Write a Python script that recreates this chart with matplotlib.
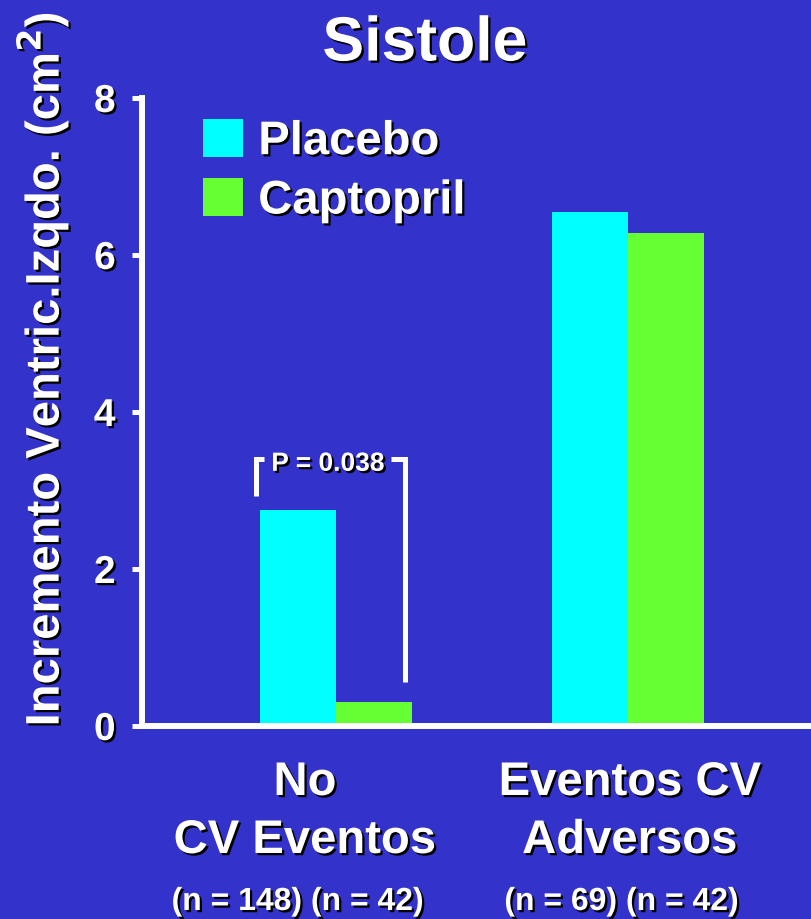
import matplotlib
matplotlib.use("Agg")
import matplotlib.pyplot as plt
import matplotlib.patheffects as pe
import matplotlib.transforms as mtransforms
import numpy as np

# Data
groups = ["No\nCV Eventos", "Eventos CV\nAdversos"]
group_n = ["(n = 148) (n = 42)", "(n = 69) (n = 42)"]
series = ["Placebo", "Captopril"]
placebo = [2.75, 6.55]
captopril = [0.30, 6.28]
y_ticks = [0, 2, 4, 6, 8]
p_label = "P = 0.038"

BG = "#3333CC"
COLORS = ["#00FFFF", "#66FF33"]
FONT = "Liberation Sans"

plt.rcParams["font.family"] = [FONT, "DejaVu Sans"]
plt.rcParams["font.weight"] = "bold"

shadow = [pe.withSimplePatchShadow(offset=(1.6, -1.6), shadow_rgbFace="black", alpha=1.0)]

fig = plt.figure(figsize=(8.11, 9.20), dpi=100, facecolor=BG)
W, H = 811, 920
ax = fig.add_axes([142 / W, (H - 727) / H, (W - 142) / W, (727 - 99) / H])
ax.set_facecolor(BG)

x = np.arange(len(groups))
bw = 0.26
ax.bar(x - bw / 2, placebo, bw, color=COLORS[0], label=series[0], zorder=2)
ax.bar(x + bw / 2, captopril, bw, color=COLORS[1], label=series[1], zorder=2)

ax.set_xlim(-0.664, 1.627)
ax.set_ylim(0, 8)

for side in ["top", "right"]:
    ax.spines[side].set_visible(False)
for side in ["left", "bottom"]:
    ax.spines[side].set_color("white")
    ax.spines[side].set_linewidth(4.3)
    ax.spines[side].set_capstyle("projecting")

ax.set_xticks([])
ax.set_yticks(y_ticks)
ax.tick_params(axis="y", colors="white", length=7, width=3.6, pad=12,
               labelsize=28)
for lab in ax.get_yticklabels():
    lab.set_fontweight("bold")
    lab.set_path_effects(shadow)

# Axis label
fig.text(43 / W, 1 - 370 / H, "Incremento Ventric.Izqdo. (cm$^{\\mathbf{2}}$)",
         rotation=90, ha="center", va="center", color="white",
         fontsize=34, fontweight="bold", path_effects=shadow)

# Title
fig.text(425 / W, 1 - 45 / H, "Sistole", ha="center", va="center",
         color="white", fontsize=45, fontweight="bold", path_effects=shadow)

# Category labels below the axis (x in data units, y in figure fraction)
below = mtransforms.blended_transform_factory(ax.transData, fig.transFigure)
label_dx = [-0.106, 0.007]
n_dx = [-0.13, -0.021]
line_baselines = [796, 854]
n_baseline = 911
for i in range(len(groups)):
    for line, base in zip(groups[i].split("\n"), line_baselines):
        ax.text(x[i] + label_dx[i], 1 - base / H, line, transform=below,
                ha="center", va="baseline", color="white", fontsize=34,
                fontweight="bold", path_effects=shadow, clip_on=False)
    ax.text(x[i] + n_dx[i], 1 - n_baseline / H, group_n[i], transform=below,
            ha="center", va="baseline", color="white", fontsize=23,
            fontweight="bold", path_effects=shadow, clip_on=False)

# Significance bracket between the first pair of bars
ax.plot([-0.274, -0.274, -0.245], [2.93, 3.40, 3.40], color="white", lw=3.6,
        solid_capstyle="butt", solid_joinstyle="miter", zorder=3)
ax.plot([0.19, 0.236, 0.236], [3.40, 3.40, 0.56], color="white", lw=3.6,
        solid_capstyle="butt", solid_joinstyle="miter", zorder=3)
ax.text(-0.027, 3.34, p_label, ha="center", va="center", color="white",
        fontsize=19, fontweight="bold", path_effects=shadow)

# Legend
leg = ax.legend(loc="upper left", bbox_to_anchor=(203 / W, 1 - 120 / H),
                bbox_transform=fig.transFigure, frameon=False, fontsize=34,
                handlelength=0.85, handleheight=0.85, handletextpad=0.32,
                labelspacing=0.30, borderpad=0, borderaxespad=0)
for t in leg.get_texts():
    t.set_color("white")
    t.set_fontweight("bold")
    t.set_path_effects(shadow)

fig.savefig("out.png", dpi=100, facecolor=BG)
